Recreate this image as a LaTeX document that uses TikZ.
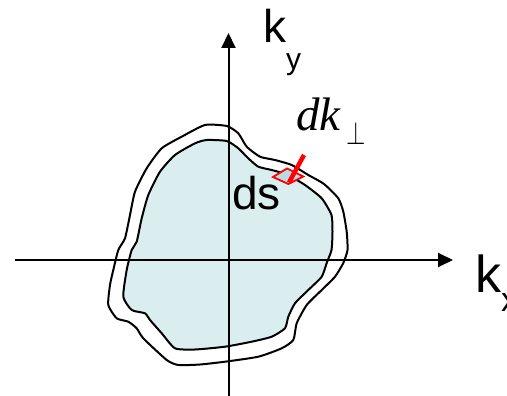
\documentclass[tikz,border=0pt]{standalone}
\usepackage{fontspec}
\setmainfont{Liberation Sans}
\newfontfamily\timesfont{Liberation Serif}
\usetikzlibrary{arrows.meta}
\definecolor{blobfill}{HTML}{DAEEF0}
\definecolor{patchfill}{HTML}{B5DCE2}
\tikzset{
  contour/.style={draw=black, line width=2pt, line join=round},
  axisline/.style={draw=black, line width=2pt, -{Triangle[length=15pt,width=14pt]}},
  lbl/.style={inner sep=0pt, anchor=base west},
  patch/.style={draw=red, line width=1.8pt, fill=patchfill, line join=miter},
  normalbar/.style={draw=red, line width=4.5pt},
}
\begin{document}
\begin{tikzpicture}[x=1pt,y=-1pt]
\useasboundingbox (0,0) rectangle (507,396);
% inner filled region
\fill[blobfill] plot[smooth cycle, tension=0.35] coordinates {
 (206.7,140) (226.7,141) (238.3,148.3) (248.3,158.3) (258.3,166.7) (271.7,170)
 (287,174.5) (305,185) (321.7,198.3) (331.5,215) (332.5,232) (331.5,250)
 (326.7,263) (321.7,276.7) (308.3,290) (295,303.3) (288.3,316.7) (285,328.3)
 (271.7,336.7) (251.7,341.7) (225,346.7) (195,349.5) (175,348.3) (161.7,333.3)
 (150,320) (145,313.3) (131.7,310) (123.3,296.7) (126.7,270) (131.7,250)
 (136.7,241.7) (141.7,218.3) (148.3,195) (160,171.7) (175,155) (195,143.3)};
% axes
\coordinate (xs) at (15,260);
\coordinate (xe) at (453,260);
\coordinate (ys) at (228.5,396);
\coordinate (ye) at (228.5,33);
\draw[axisline] (xs) -- (xe);
\draw[axisline] (ys) -- (ye);
% inner contour
\draw[contour] plot[smooth cycle, tension=0.35] coordinates {
 (206.7,140) (226.7,141) (238.3,148.3) (248.3,158.3) (258.3,166.7) (271.7,170)
 (287,174.5) (305,185) (321.7,198.3) (331.5,215) (332.5,232) (331.5,250)
 (326.7,263) (321.7,276.7) (308.3,290) (295,303.3) (288.3,316.7) (285,328.3)
 (271.7,336.7) (251.7,341.7) (225,346.7) (195,349.5) (175,348.3) (161.7,333.3)
 (150,320) (145,313.3) (131.7,310) (123.3,296.7) (126.7,270) (131.7,250)
 (136.7,241.7) (141.7,218.3) (148.3,195) (160,171.7) (175,155) (195,143.3)};
% outer contour
\draw[contour] plot[smooth cycle, tension=0.35] coordinates {
 (205,125) (226.7,126) (238.3,133.3) (246.7,146.7) (260,156.7) (275,160)
 (291.7,165) (308.3,175) (324,184) (338.3,198.3) (343.3,211.7) (346.7,231.7)
 (347.5,250) (343.3,263) (335,276.7) (321.7,290) (306.7,305) (296.7,323.3)
 (293.3,340) (281.7,348.3) (258.3,356.7) (225,361.7) (200,364.5) (178.3,365)
 (166.7,360) (143.3,338.3) (136.7,328.3) (128.3,321.7) (116.7,318.3) (108.3,305)
 (110,285) (113.3,270) (118.3,250) (125,238.3) (130,215) (135,191.7)
 (146.7,168.3) (161.7,148.3) (181.7,136.7)};
% surface element
\draw[patch] (273,177) -- (287,168.5) -- (303.3,176.5) -- (288.3,184) -- cycle;
\coordinate (nb1) at (304,155);
\coordinate (nb2) at (289,182.5);
\draw[normalbar] (nb1) -- (nb2);
% labels
\node[lbl] (ds) at (232,209) {\fontsize{46}{46}\selectfont ds};
\node[lbl] (ky) at (263,43) {\fontsize{46}{46}\selectfont k\raisebox{-27pt}{\fontsize{30}{30}\selectfont y}};
\node[lbl] (kx) at (475,292) {\fontsize{52}{52}\selectfont k\raisebox{-19pt}{\fontsize{34}{34}\selectfont x}};
\node[lbl] (dk) at (296,131) {\fontsize{47}{47}\selectfont\timesfont\itshape dk\hspace{6pt}\raisebox{-14pt}{\scalebox{1}[1.3]{\fontsize{25}{25}\selectfont$\perp$}}};
\end{tikzpicture}
\end{document}
